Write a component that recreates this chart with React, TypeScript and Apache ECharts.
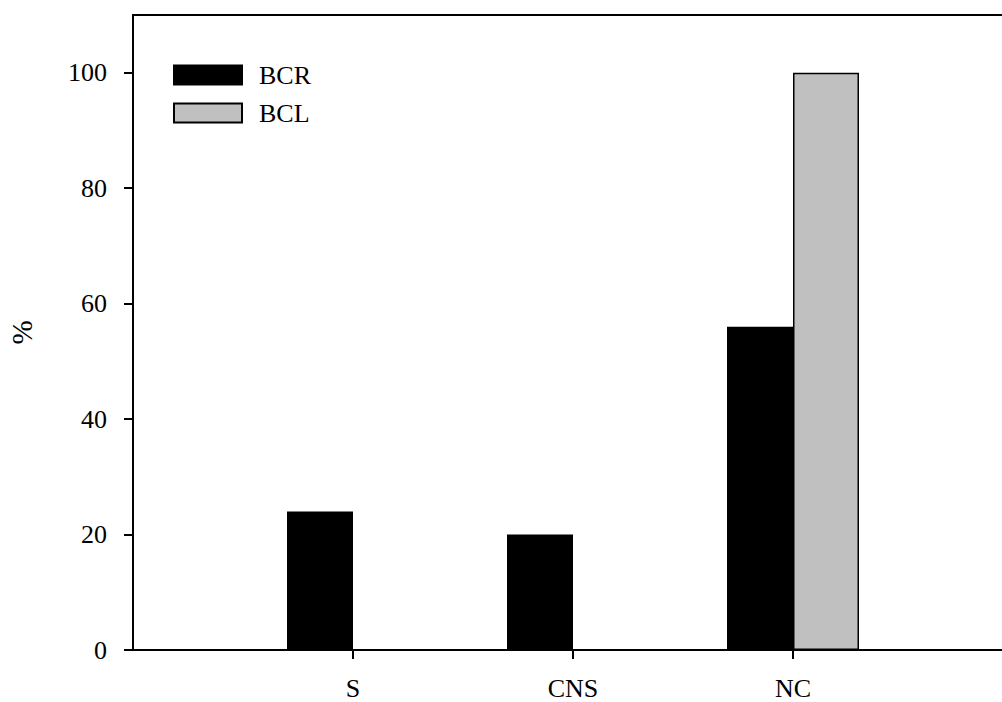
import React, { useEffect, useRef } from "react";
import * as echarts from "echarts";

const categories = ["S", "CNS", "NC"];
const bcrValues = [24, 20, 56];
const bclValues = [0, 0, 100];
const yTicks = [0, 20, 40, 60, 80, 100];

const FONT = "'Liberation Serif', 'Times New Roman', serif";

export default function App() {
  const ref = useRef<HTMLDivElement>(null);
  useEffect(() => {
    if (!ref.current) return;
    const chart = echarts.init(ref.current, undefined, { renderer: "svg" });
    const axisCats = ["", ...categories, ""];
    const pad = (arr: number[]) => [null, ...arr, null];
    chart.setOption({
      animation: false,
      backgroundColor: "#fff",
      textStyle: { fontFamily: FONT },
      grid: {
        left: 133,
        top: 15,
        bottom: 52,
        right: -11,
        outerBoundsMode: "none",
        containLabel: false,
        show: true,
        borderColor: "#000",
        borderWidth: 2,
        backgroundColor: "transparent",
      },
      legend: {
        orient: "vertical",
        left: 168,
        top: 57,
        itemWidth: 68,
        itemHeight: 19,
        itemGap: 12,
        icon: "rect",
        textStyle: {
          fontFamily: FONT,
          fontSize: 26,
          color: "#000",
          padding: [0, 0, 0, 12],
        },
        data: ["BCR", "BCL"],
      },
      xAxis: {
        type: "category",
        data: axisCats,
        boundaryGap: false,
        axisLine: { lineStyle: { color: "#000", width: 2 } },
        axisTick: {
          length: 9,
          lineStyle: { color: "#000", width: 2 },
          interval: (_i: number, v: string) => v !== "",
        },
        axisLabel: {
          interval: 0,
          margin: 25,
          fontFamily: FONT,
          fontSize: 26,
          color: "#000",
        },
        splitLine: { show: false },
      },
      yAxis: {
        type: "value",
        min: 0,
        max: 110,
        interval: 20,
        name: "%",
        nameLocation: "middle",
        nameRotate: 90,
        nameGap: 97,
        nameTextStyle: { fontFamily: FONT, fontSize: 29, color: "#000" },
        axisLine: { show: true, lineStyle: { color: "#000", width: 2 } },
        axisTick: {
          show: true,
          length: 9,
          customValues: yTicks,
          lineStyle: { color: "#000", width: 2 },
        },
        axisLabel: {
          customValues: yTicks,
          margin: 26,
          fontFamily: FONT,
          fontSize: 26,
          color: "#000",
        },
        splitLine: { show: false },
      },
      series: [
        {
          name: "BCR",
          type: "bar",
          data: pad(bcrValues),
          barWidth: 66,
          barGap: "0%",
          itemStyle: { color: "#000", borderColor: "#000", borderWidth: 1.5 },
        },
        {
          name: "BCL",
          type: "bar",
          data: pad(bclValues),
          barWidth: 66,
          barGap: "0%",
          itemStyle: { color: "#c0c0c0", borderColor: "#000", borderWidth: 1.5 },
        },
      ],
    });
    return () => chart.dispose();
  }, []);
  return (
    <div
      ref={ref}
      style={{ position: "absolute", left: 0, top: 0, width: 1002, height: 702 }}
    />
  );
}
